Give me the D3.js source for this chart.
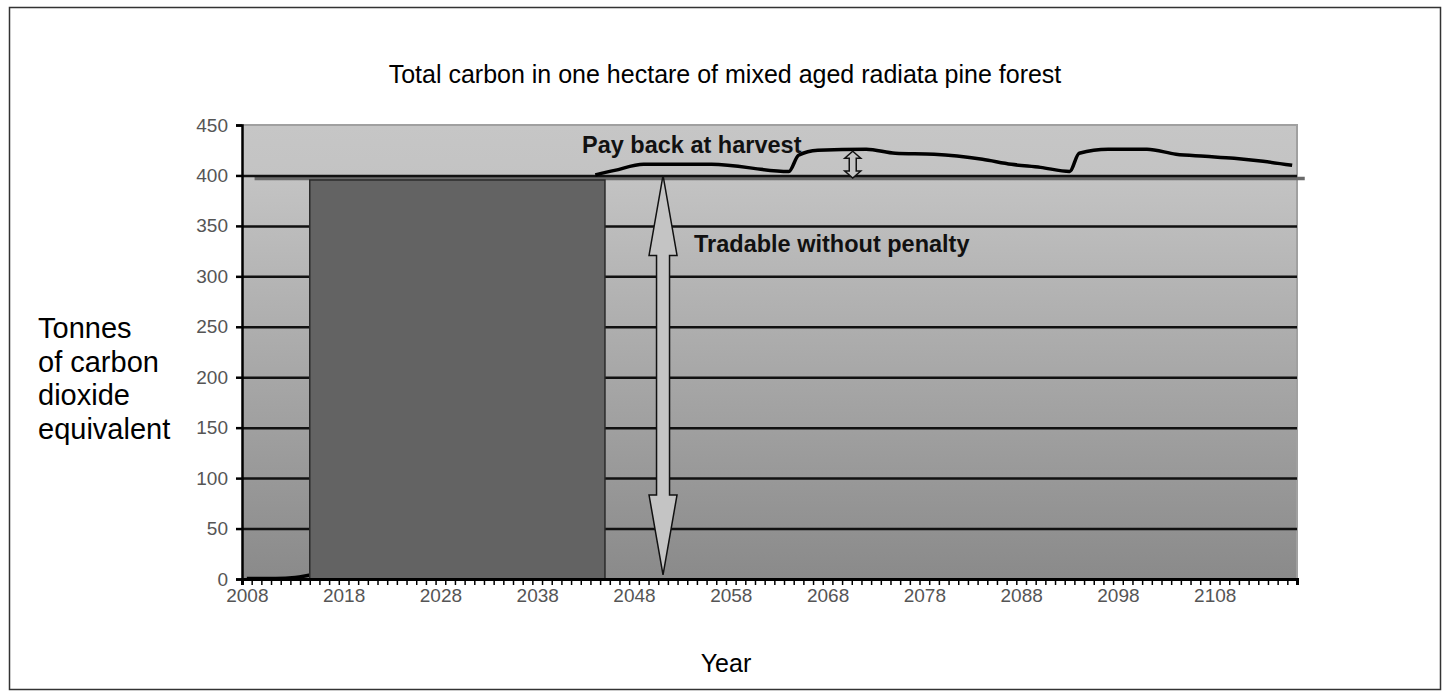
<!DOCTYPE html>
<html>
<head>
<meta charset="utf-8">
<script src="https://cdn.jsdelivr.net/npm/d3@7"></script>
<style>
  body { margin: 0; background: #fff; }
  text { font-family: "Liberation Sans", Arial, sans-serif; }
</style>
</head>
<body>
<svg id="canvas" width="1450" height="695"></svg>
<script>
// valores
const yTicks = [0, 50, 100, 150, 200, 250, 300, 350, 400, 450]
const xLabelYears = [2008, 2018, 2028, 2038, 2048, 2058, 2068, 2078, 2088, 2098, 2108]

// crecimiento inicial (visible antes del bloque oscuro)
const growthYears = [2008, 2011, 2013, 2014, 2015]
const growthValues = [0.5, 0.5, 1.5, 3, 5]

// bosque maduro con cosechas
const matureYears = [2044, 2046, 2049, 2056, 2064, 2065, 2067, 2072, 2075, 2079, 2084, 2087, 2090, 2093, 2094, 2097, 2101, 2104, 2107, 2110, 2113, 2116]
const matureValues = [400.5, 405, 411, 411, 404, 420, 425, 426, 422, 421, 416, 411, 408, 404, 422, 426, 426, 421, 419, 417, 414, 410]

// bloque oscuro, flechas y linea de referencia (años / toneladas)
const blockYears = [2014.5, 2045]
const blockTop = 395.5
const tradableArrow = { year: 2051, from: 4, to: 400 }
const paybackArrow = { year: 2070.6, from: 397.5, to: 424 }
const refLine = { value: 397, from: 2008.8, to: 2117.3 }

const svg = d3.select("#canvas")

const mLeft = 242, mRight = 1297, mTop = 125, mBottom = 579

const x = d3.scaleLinear().domain([2007.5, 2116.5]).range([mLeft, mRight])
const y = d3.scaleLinear().domain([0, 450]).range([mBottom, mTop])

// borde exterior
svg.append("rect")
    .attr("x", 9.5).attr("y", 7.5)
    .attr("width", 1431).attr("height", 682)
    .attr("fill", "none").attr("stroke", "#333").attr("stroke-width", 1.5)

// degradado del fondo
const defs = svg.append("defs")
const grad = defs.append("linearGradient")
    .attr("id", "bg").attr("x1", 0).attr("y1", 0).attr("x2", 0).attr("y2", 1)
grad.append("stop").attr("offset", "0%").attr("stop-color", "#c6c6c6")
grad.append("stop").attr("offset", "12%").attr("stop-color", "#c3c3c3")
grad.append("stop").attr("offset", "100%").attr("stop-color", "#8a8a8a")

svg.append("rect")
    .attr("x", mLeft).attr("y", mTop)
    .attr("width", mRight - mLeft).attr("height", mBottom - mTop)
    .attr("fill", "url(#bg)")

// borde superior / derecho claro
svg.append("path")
    .attr("d", `M${mLeft},${y(450)}H${mRight}V${mBottom}`)
    .attr("fill", "none").attr("stroke", "#a0a0a0").attr("stroke-width", 2)

// linea de referencia gris bajo 400
svg.append("line")
    .attr("x1", x(refLine.from)).attr("x2", x(refLine.to))
    .attr("y1", y(refLine.value)).attr("y2", y(refLine.value))
    .attr("stroke", "#6a6a6a").attr("stroke-width", 3.5)

// lineas de cuadricula
svg.append("g")
    .attr("transform", `translate(${mLeft},0)`)
    .call(d3.axisLeft(y).tickValues(yTicks.filter(d => d > 0 && d < 450)).tickSize(-(mRight - mLeft)).tickFormat(""))
    .call(g => g.select(".domain").remove())
    .call(g => g.selectAll("line").attr("stroke", "#111").attr("stroke-width", 2.5))

// series
const line = d3.line().x(d => x(d[0])).y(d => y(d[1])).curve(d3.curveMonotoneX)
const segs = [d3.zip(growthYears, growthValues), d3.zip(matureYears, matureValues)]
svg.selectAll("path.serie")
    .data(segs)
    .enter().append("path")
    .attr("class", "serie")
    .attr("d", line)
    .attr("fill", "none").attr("stroke", "#000").attr("stroke-width", 3.5)
    .attr("stroke-linejoin", "round")

// bloque oscuro
svg.append("rect")
    .attr("x", x(blockYears[0])).attr("y", y(blockTop))
    .attr("width", x(blockYears[1]) - x(blockYears[0]))
    .attr("height", y(0) - y(blockTop))
    .attr("fill", "#636363").attr("stroke", "#2a2a2a").attr("stroke-width", 1.5)

// flecha doble
function doubleArrow(cx, y1, y2, head, hw, sw) {
    return `M${cx},${y1}L${cx + hw},${y1 + head}L${cx + sw},${y1 + head}L${cx + sw},${y2 - head}` +
        `L${cx + hw},${y2 - head}L${cx},${y2}L${cx - hw},${y2 - head}L${cx - sw},${y2 - head}` +
        `L${cx - sw},${y1 + head}L${cx - hw},${y1 + head}Z`
}

svg.append("path")
    .attr("d", doubleArrow(x(tradableArrow.year), y(tradableArrow.to), y(tradableArrow.from), 80, 14, 6.5))
    .attr("fill", "#c4c4c4").attr("stroke", "#111").attr("stroke-width", 1.5)

svg.append("path")
    .attr("d", doubleArrow(x(paybackArrow.year), y(paybackArrow.to), y(paybackArrow.from), 7, 8, 3.5))
    .attr("fill", "#c4c4c4").attr("stroke", "#111").attr("stroke-width", 1.5)

// textos de anotacion
svg.append("text")
    .attr("x", 582).attr("y", 153)
    .attr("font-size", 23.5).attr("font-weight", "bold").attr("fill", "#111")
    .text("Pay back at harvest")

svg.append("text")
    .attr("x", 694).attr("y", 252)
    .attr("font-size", 23.5).attr("font-weight", "bold").attr("fill", "#111")
    .text("Tradable without penalty")

// eje y
svg.append("g")
    .attr("transform", `translate(${mLeft},0)`)
    .call(d3.axisLeft(y).tickValues(yTicks).tickSize(6).tickPadding(8))
    .call(g => g.select(".domain").attr("stroke", "#000").attr("stroke-width", 2.5))
    .call(g => g.selectAll("line").attr("stroke", "#000").attr("stroke-width", 2.5))
    .call(g => g.selectAll("text").attr("font-size", 19).attr("fill", "#555")
        .attr("font-family", "'Liberation Sans', Arial, sans-serif"))

// eje x: marcas por año
svg.append("g")
    .attr("transform", `translate(0,${mBottom})`)
    .call(d3.axisBottom(x).tickValues(d3.range(2007.5, 2117, 1)).tickSize(6).tickFormat(""))
    .call(g => g.select(".domain").attr("stroke", "#000").attr("stroke-width", 3))
    .call(g => g.selectAll("line").attr("stroke", "#000").attr("stroke-width", 1.5))

svg.append("g")
    .attr("transform", `translate(0,${mBottom})`)
    .call(d3.axisBottom(x).tickValues(xLabelYears).tickSize(0).tickPadding(10).tickFormat(d3.format("d")))
    .call(g => g.select(".domain").remove())
    .call(g => g.selectAll("text").attr("font-size", 19).attr("fill", "#555")
        .attr("font-family", "'Liberation Sans', Arial, sans-serif"))

// titulo y etiquetas
svg.append("text")
    .attr("x", 725).attr("y", 83).attr("text-anchor", "middle")
    .attr("font-size", 25).attr("fill", "#000")
    .text("Total carbon in one hectare of mixed aged radiata pine forest")

svg.append("text")
    .attr("x", 726).attr("y", 672).attr("text-anchor", "middle")
    .attr("font-size", 25).attr("fill", "#000")
    .text("Year")

const yLabel = ["Tonnes", "of carbon", "dioxide", "equivalent"]
svg.append("text")
    .attr("x", 38).attr("y", 338)
    .attr("font-size", 29).attr("fill", "#000")
    .selectAll("tspan")
    .data(yLabel)
    .enter().append("tspan")
    .attr("x", 38)
    .attr("dy", (d, i) => i === 0 ? 0 : 33.5)
    .text(d => d)
</script>
</body>
</html>
